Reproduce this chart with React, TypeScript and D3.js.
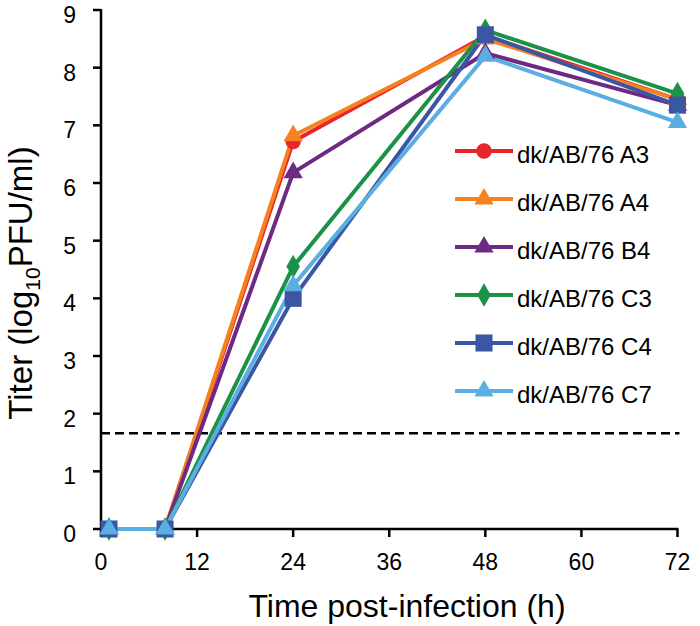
import React from "react";
import * as d3 from "d3";

const hours = [1, 8, 24, 48, 72];
const seriesNames = ["dk/AB/76 A3", "dk/AB/76 A4", "dk/AB/76 B4", "dk/AB/76 C3", "dk/AB/76 C4", "dk/AB/76 C7"];
const a3 = [0, 0, 6.72, 8.55, 7.45];
const a4 = [0, 0, 6.82, 8.5, 7.45];
const b4 = [0, 0, 6.18, 8.25, 7.35];
const c3 = [0, 0, 4.55, 8.65, 7.55];
const c4 = [0, 0, 4.0, 8.57, 7.35];
const c7 = [0, 0, 4.22, 8.2, 7.05];
const seriesColors = ["#e8252b", "#f5821f", "#6c2a83", "#1b9248", "#3b56a5", "#5aaee2"];
const seriesShapes = ["circle", "triangle", "triangle", "diamond", "square", "triangle"];
const xTicks = [0, 12, 24, 36, 48, 60, 72];
const yTicks = [0, 1, 2, 3, 4, 5, 6, 7, 8, 9];
const detectionLimit = 1.66;

const allValues = [a3, a4, b4, c3, c4, c7];

const W = 700;
const H = 626;
const FONT = "'Liberation Sans', Arial, Helvetica, sans-serif";

function symbolPath(shape: string) {
  const t =
    shape === "circle" ? d3.symbolCircle :
    shape === "triangle" ? d3.symbolTriangle :
    shape === "diamond" ? d3.symbolDiamond : d3.symbolSquare;
  const size =
    shape === "circle" ? 190 :
    shape === "triangle" ? 160 :
    shape === "diamond" ? 160 : 290;
  return d3.symbol().type(t).size(size)() as string;
}

export default function App() {
  const x = d3.scaleLinear().domain([0, 72]).range([101, 677.5]);
  const y = d3.scaleLinear().domain([0, 9]).range([529, 10]);
  const line = d3.line<[number, number]>().x((d) => x(d[0])).y((d) => y(d[1]));

  const legendY0 = 151;
  const legendStep = 48;

  return (
    <svg
      width={W}
      height={H}
      style={{ position: "absolute", left: 0, top: 0, background: "#fff", display: "block" }}
      fontFamily={FONT}
    >
      <rect x={0} y={0} width={W} height={H} fill="#fff" />
      {/* detection limit */}
      <line
        x1={x(0)}
        x2={x(72) + 2}
        y1={y(detectionLimit)}
        y2={y(detectionLimit)}
        stroke="#000"
        strokeWidth={2.5}
        strokeDasharray="9 5"
      />
      {/* axes */}
      <line x1={x(0)} x2={x(0)} y1={y(9) - 1} y2={y(0) + 1} stroke="#000" strokeWidth={2.5} />
      <line x1={x(0) - 1} x2={x(72) + 1} y1={y(0)} y2={y(0)} stroke="#000" strokeWidth={2.5} />
      {yTicks.map((t) => (
        <g key={"y" + t}>
          <line x1={x(0) - 8} x2={x(0)} y1={y(t)} y2={y(t)} stroke="#000" strokeWidth={2.5} />
          <text x={76} y={y(t) + 13} textAnchor="end" fontSize={23} fill="#000">
            {t}
          </text>
        </g>
      ))}
      {xTicks.map((t) => (
        <g key={"x" + t}>
          <line x1={x(t)} x2={x(t)} y1={y(0)} y2={y(0) + 8} stroke="#000" strokeWidth={2.5} />
          <text x={x(t)} y={570} textAnchor="middle" fontSize={23} fill="#000">
            {t}
          </text>
        </g>
      ))}
      <text x={407} y={617} textAnchor="middle" fontSize={32} fill="#000">
        Time post-infection (h)
      </text>
      <text transform="translate(32,283) rotate(-90)" textAnchor="middle" fontSize={33} fill="#000">
        Titer (log
        <tspan fontSize={21} dy={8}>10</tspan>
        <tspan dy={-8}>PFU/ml)</tspan>
      </text>
      {/* series lines */}
      {allValues.map((vals, i) => (
        <path
          key={"l" + i}
          d={line(hours.map((h, j) => [h, vals[j]] as [number, number])) as string}
          fill="none"
          stroke={seriesColors[i]}
          strokeWidth={4}
          strokeLinejoin="round"
        />
      ))}
      {allValues.map((vals, i) => (
        <g key={"m" + i}>
          {hours.map((h, j) => (
            <path
              key={j}
              d={symbolPath(seriesShapes[i])}
              transform={`translate(${x(h)},${y(vals[j])})`}
              fill={seriesColors[i]}
            />
          ))}
        </g>
      ))}
      {/* legend */}
      {seriesNames.map((name, i) => {
        const ly = legendY0 + i * legendStep;
        return (
          <g key={"lg" + i}>
            <line x1={455} x2={513} y1={ly} y2={ly} stroke={seriesColors[i]} strokeWidth={4} />
            <path d={symbolPath(seriesShapes[i])} transform={`translate(484,${ly})`} fill={seriesColors[i]} />
            <text x={517} y={ly + 12} fontSize={24} fill="#000">
              {name}
            </text>
          </g>
        );
      })}
    </svg>
  );
}
